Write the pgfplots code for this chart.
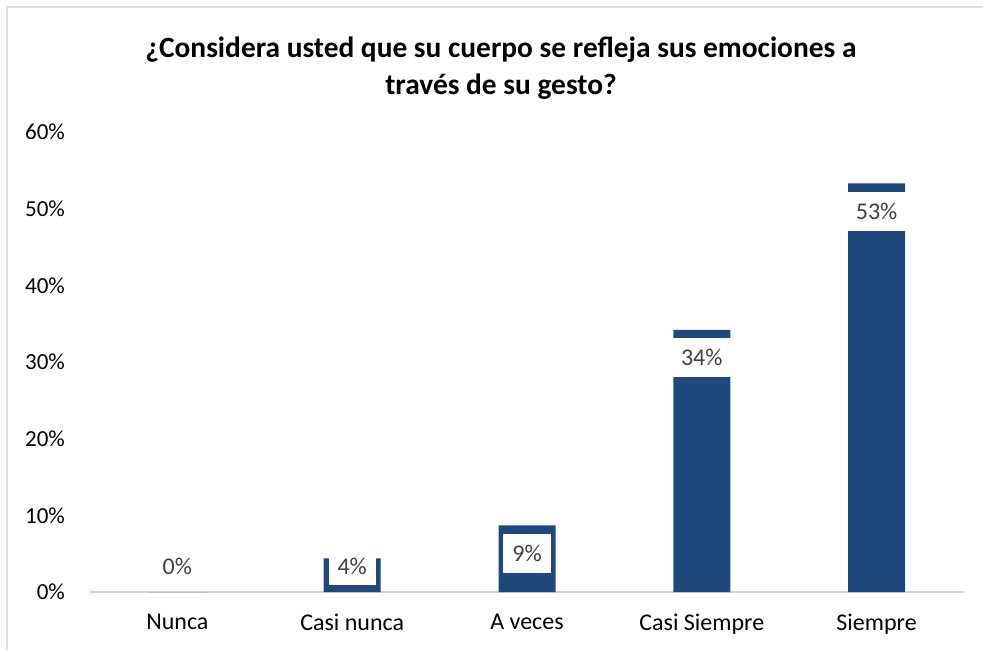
\documentclass[border=0pt]{standalone}
\usepackage{pgfplots}
\pgfplotsset{compat=1.18}
\usepackage{fontspec}
\setmainfont{Carlito}
\definecolor{barblue}{RGB}{31,73,125}
\definecolor{labgray}{RGB}{64,64,64}
\begin{document}
\begin{tikzpicture}
\useasboundingbox (-45pt,-29pt) rectangle (446.5pt,296pt);
\draw[gray!25, line width=1pt] (-41.5pt,-29pt) -- (-41.5pt,292.5pt) -- (446.5pt,292.5pt);
\node[font=\fontsize{14.7}{18.5}\selectfont\bfseries, align=center] at (205.5pt,262pt)
  {¿Considera usted que su cuerpo se refleja sus emociones a\\través de su gesto?};
\begin{axis}[
  scale only axis,
  width=437pt, height=230pt,
  xmin=-0.5, xmax=4.5,
  ymin=0, ymax=60,
  axis x line=bottom, axis y line=left,
  x axis line style={gray!35, line width=1pt, -},
  y axis line style={draw=none},
  major tick length=0pt,
  xtick={0,1,2,3,4},
  xticklabels={Nunca,Casi nunca,A veces,Casi Siempre,Siempre},
  ytick={0,10,20,30,40,50,60},
  yticklabels={0\%,10\%,20\%,30\%,40\%,50\%,60\%},
  tick label style={text=black},
  xticklabel style={yshift=-7.5pt, font=\fontsize{12}{14}\selectfont},
  yticklabel style={xshift=-9pt, font=\fontsize{11.5}{14}\selectfont},
  clip=false,
]
\addplot[ybar, bar width=28.5pt, fill=barblue, draw=none]
  coordinates {(0,0) (1,4.4) (2,8.7) (3,34.2) (4,53.3)};
\addplot[draw=none, mark=none, nodes near coords, point meta=explicit symbolic,
  every node near coord/.append style={anchor=center, fill=white, text=labgray,
    font=\fontsize{12}{14}\selectfont, inner xsep=4.5pt, inner ysep=0pt,
    minimum height=19.5pt}]
  coordinates {(0,3.4) [0\%] (1,3.4) [4\%] (2,5.05) [9\%] (3,30.55) [34\%] (4,49.65) [53\%]};
\end{axis}
\end{tikzpicture}
\end{document}
